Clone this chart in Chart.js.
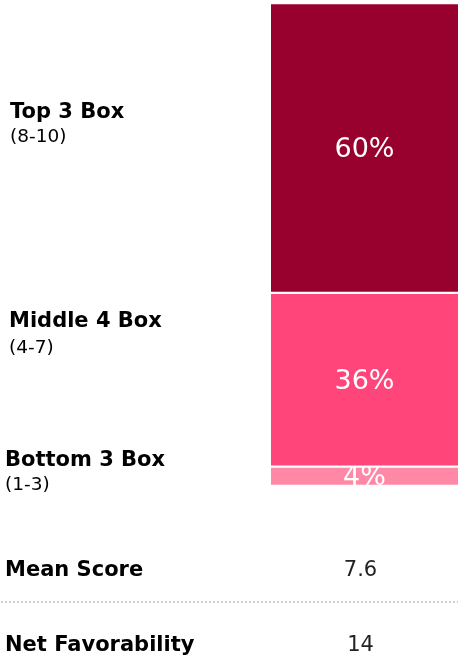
<!doctype html>
<html lang="en">
<head>
    <meta charset="utf-8">
    <title>Score Distribution</title>
    <style>
        html, body { margin: 0; padding: 0; background: #fff; }
        #wrap { position: relative; width: 458px; height: 660px; }
    </style>
</head>
<body>
<div id="wrap">
    <canvas id="chart"></canvas>
</div>

<script src="https://cdn.jsdelivr.net/npm/chart.js@4.4.0/dist/chart.umd.min.js"></script>
<script>
    // data
    let groups = ['Top 3 Box', 'Middle 4 Box', 'Bottom 3 Box'];
    let ranges = ['(8-10)', '(4-7)', '(1-3)'];
    let shares = [60, 36, 4];
    let colors = ['#98002e', '#ff4579', '#ff88a7'];
    let statNames = ['Mean Score', 'Net Favorability'];
    let statValues = ['7.6', '14'];

    const FONT = '"DejaVu Sans", sans-serif';

    // label positions (left column)
    const groupPos = [
        {x: 10, y: 118, sub: 142},
        {x: 9, y: 327, sub: 353},
        {x: 5, y: 466, sub: 490}
    ];
    const statPos = [576, 651];

    const textPlugin = {
        id: 'textPlugin',
        afterDatasetsDraw(chart) {
            const ctx = chart.ctx;
            ctx.save();
            // percentages inside the bar, clipped to each segment
            chart.data.datasets.forEach((ds, i) => {
                const bar = chart.getDatasetMeta(i).data[0];
                const top = Math.min(bar.y, bar.base);
                const h = Math.abs(bar.base - bar.y);
                const left = bar.x - bar.width / 2;
                ctx.save();
                ctx.beginPath();
                ctx.rect(left, top, bar.width, h);
                ctx.clip();
                ctx.fillStyle = '#fff';
                ctx.font = '27px ' + FONT;
                ctx.textAlign = 'center';
                ctx.textBaseline = 'middle';
                ctx.fillText(ds.data[0] + '%', bar.x, top + h / 2 + 2);
                ctx.restore();
            });

            // left labels
            ctx.fillStyle = '#000';
            ctx.textAlign = 'left';
            ctx.textBaseline = 'alphabetic';
            groups.forEach((g, i) => {
                ctx.font = 'bold 21px ' + FONT;
                ctx.fillText(g, groupPos[i].x, groupPos[i].y);
                ctx.font = '18.5px ' + FONT;
                ctx.fillText(ranges[i], groupPos[i].x, groupPos[i].sub);
            });

            // stats
            const cx = chart.chartArea.left + (chart.chartArea.right - chart.chartArea.left) / 2 - 4;
            statNames.forEach((s, i) => {
                ctx.textAlign = 'left';
                ctx.fillStyle = '#000';
                ctx.font = 'bold 21px ' + FONT;
                ctx.fillText(s, 5, statPos[i]);
                ctx.textAlign = 'center';
                ctx.fillStyle = '#222';
                ctx.font = '21px ' + FONT;
                ctx.fillText(statValues[i], cx, statPos[i]);
            });

            // dotted separator
            ctx.fillStyle = '#cfcfcf';
            for (let x = 1; x < chart.width; x += 4) {
                ctx.fillRect(x, 601, 2, 2);
            }
            ctx.restore();
        }
    };

    const datasets = groups.map((g, i) => ({
        label: g,
        data: [shares[i]],
        backgroundColor: colors[i],
        borderColor: '#fff',
        borderWidth: {top: 1.5, bottom: 1.5, left: 0, right: 0},
        borderSkipped: false,
        barPercentage: 1,
        categoryPercentage: 1
    }));

    new Chart(document.getElementById('chart'), {
        type: 'bar',
        data: {
            labels: ['Score'],
            datasets: datasets
        },
        options: {
            responsive: true,
            maintainAspectRatio: false,
            animation: false,
            layout: {
                padding: {left: 271, top: 3, right: 0, bottom: 174}
            },
            plugins: {
                legend: {display: false},
                tooltip: {enabled: false}
            },
            scales: {
                x: {stacked: true, display: false},
                y: {stacked: true, display: false, min: 0, max: 100, reverse: true}
            }
        },
        plugins: [textPlugin]
    });
</script>
</body>
</html>
